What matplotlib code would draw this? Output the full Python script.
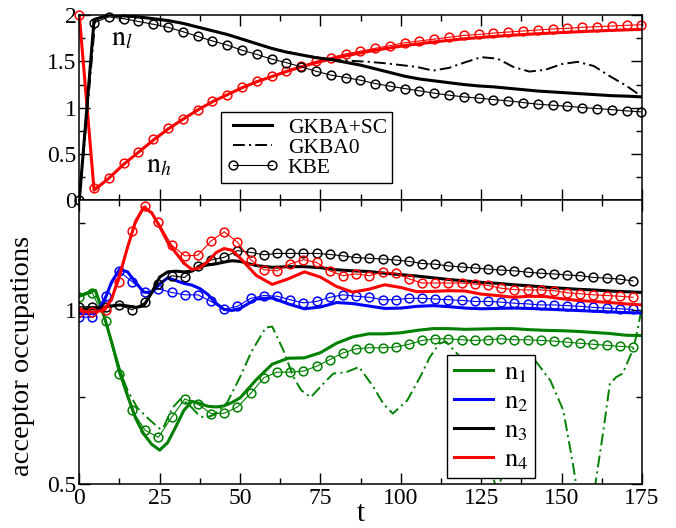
import numpy as np
import matplotlib as mpl
import matplotlib.pyplot as plt
from matplotlib.lines import Line2D

plt.rcParams.update({
    'font.family': ['Liberation Serif', 'DejaVu Serif'],
    'mathtext.fontset': 'stix',
    'axes.linewidth': 1.1,
    'xtick.direction': 'in', 'ytick.direction': 'in',
    'xtick.top': True, 'ytick.right': True,
    'xtick.major.size': 8, 'ytick.major.size': 8,
    'xtick.minor.size': 4, 'ytick.minor.size': 4,
    'xtick.major.width': 1.0, 'ytick.major.width': 1.0,
    'xtick.minor.width': 1.0, 'ytick.minor.width': 1.0,
    'xtick.labelsize': 17, 'ytick.labelsize': 17,
    'xtick.major.pad': 3, 'ytick.major.pad': 2,
    'lines.scale_dashes': False,
})

GREEN, BLUE, RED, BLACK = '#008000', '#0000ff', '#ff0000', '#000000'
DASHDOT = (0, (8.5, 3, 1.5, 3))

# ---- upper panel: n_l (black) and n_h (red) ----
t_top = np.linspace(0, 174.8, 39)  # KBE sampling, also used for the smooth GKBA+SC curves
nl_kbe = [0.0, 1.917, 1.98, 1.96, 1.93, 1.90, 1.867, 1.82, 1.77, 1.72, 1.676, 1.62,
          1.575, 1.524, 1.486, 1.441, 1.394, 1.352, 1.326, 1.297, 1.261, 1.232, 1.207,
          1.182, 1.157, 1.135, 1.117, 1.103, 1.088, 1.074, 1.056, 1.038, 1.027, 1.016,
          1.002, 0.991, 0.980, 0.966, 0.955]
nh_kbe = [2.0, 0.13, 0.24, 0.40, 0.52, 0.66, 0.78, 0.88, 0.98, 1.07, 1.14, 1.22, 1.29,
          1.34, 1.40, 1.45, 1.50, 1.54, 1.58, 1.61, 1.64, 1.67, 1.70, 1.72, 1.74, 1.76,
          1.78, 1.79, 1.805, 1.816, 1.827, 1.838, 1.849, 1.856, 1.867, 1.874, 1.881,
          1.889, 1.895]
nl_sc = [0.0, 1.95, 2.0, 1.99, 1.98, 1.96, 1.94, 1.91, 1.87, 1.83, 1.79, 1.74, 1.69,
         1.64, 1.60, 1.57, 1.54, 1.52, 1.49, 1.46, 1.42, 1.38, 1.34, 1.31, 1.29, 1.27,
         1.25, 1.235, 1.225, 1.21, 1.195, 1.18, 1.17, 1.16, 1.15, 1.14, 1.13, 1.125, 1.117]
nh_sc = [2.0, 0.11, 0.24, 0.39, 0.52, 0.65, 0.77, 0.875, 0.975, 1.065, 1.14, 1.215,
         1.28, 1.335, 1.39, 1.44, 1.485, 1.525, 1.56, 1.59, 1.62, 1.645, 1.67, 1.69,
         1.71, 1.727, 1.743, 1.756, 1.768, 1.779, 1.789, 1.798, 1.806, 1.814, 1.821,
         1.828, 1.834, 1.84, 1.845]
t_nl_gkba0 = [0, 5, 10, 15, 20, 25, 30, 35, 40, 45, 50, 55, 60, 65, 70, 75, 80, 85, 90,
              95, 100, 105, 110, 115, 120, 125, 130, 135, 140, 145, 150, 155, 160, 165,
              170, 175]
nl_gkba0 = [0.0, 1.96, 2.0, 1.99, 1.97, 1.95, 1.925, 1.89, 1.84, 1.80, 1.75, 1.69,
            1.64, 1.60, 1.565, 1.535, 1.515, 1.505, 1.495, 1.48, 1.46, 1.44, 1.40, 1.43,
            1.49, 1.545, 1.53, 1.44, 1.39, 1.41, 1.47, 1.495, 1.45, 1.34, 1.24, 1.12]

# ---- lower panel: acceptor occupations n_1..n_4 ----
t_kbe = np.linspace(0, 172.2, 43)
n1_kbe = [1.039, 1.049, 0.968, 0.818, 0.712, 0.655, 0.635, 0.692, 0.745, 0.730, 0.703,
          0.704, 0.722, 0.761, 0.806, 0.822, 0.822, 0.825, 0.839, 0.858, 0.877, 0.889,
          0.892, 0.892, 0.894, 0.902, 0.913, 0.918, 0.918, 0.915, 0.913, 0.915, 0.918,
          0.915, 0.915, 0.913, 0.911, 0.908, 0.905, 0.902, 0.899, 0.896, 0.894]
n2_kbe = [0.980, 0.980, 1.042, 1.113, 1.082, 1.051, 1.061, 1.051, 1.044, 1.044, 1.025,
          1.002, 1.011, 1.034, 1.042, 1.040, 1.030, 1.021, 1.025, 1.037, 1.044, 1.040,
          1.037, 1.030, 1.030, 1.034, 1.034, 1.032, 1.030, 1.028, 1.025, 1.025, 1.023,
          1.020, 1.018, 1.015, 1.015, 1.013, 1.011, 1.008, 1.006, 1.004, 1.002]
n3_kbe = [1.010, 1.010, 1.010, 1.016, 1.001, 1.023, 1.075, 1.099, 1.094, 1.128, 1.144,
          1.152, 1.171, 1.166, 1.159, 1.163, 1.163, 1.163, 1.163, 1.160, 1.156, 1.151,
          1.149, 1.147, 1.144, 1.140, 1.134, 1.132, 1.127, 1.124, 1.121, 1.118, 1.115,
          1.113, 1.109, 1.106, 1.104, 1.101, 1.099, 1.094, 1.092, 1.089, 1.084]
n4_kbe = [0.995, 0.995, 1.000, 1.082, 1.228, 1.300, 1.252, 1.187, 1.156, 1.158, 1.199,
          1.225, 1.195, 1.145, 1.116, 1.113, 1.133, 1.145, 1.137, 1.113, 1.099, 1.104,
          1.099, 1.109, 1.106, 1.090, 1.078, 1.078, 1.078, 1.078, 1.075, 1.071, 1.063,
          1.059, 1.058, 1.058, 1.056, 1.050, 1.047, 1.044, 1.042, 1.040, 1.037]

t_sc = [0, 2.5, 5, 7.5, 10, 12.5, 15, 17.5, 20, 22.5, 25, 27.5, 30, 32.5, 35, 37.5, 40,
        42.5, 45, 47.5, 50, 55, 60, 65, 70, 75, 80, 85, 90, 95, 100, 105, 110, 115, 120,
        125, 130, 135, 140, 145, 150, 155, 160, 165, 170, 175]
n1_sc = [1.04, 1.05, 1.057, 0.99, 0.91, 0.828, 0.755, 0.69, 0.645, 0.615, 0.598, 0.62,
         0.665, 0.712, 0.738, 0.732, 0.724, 0.722, 0.725, 0.735, 0.748, 0.80, 0.845,
         0.862, 0.863, 0.878, 0.905, 0.923, 0.932, 0.932, 0.935, 0.942, 0.947, 0.947,
         0.945, 0.946, 0.947, 0.947, 0.944, 0.942, 0.941, 0.939, 0.936, 0.933, 0.928, 0.927]
n2_sc = [0.99, 0.99, 0.992, 1.02, 1.08, 1.117, 1.11, 1.08, 1.052, 1.05, 1.075, 1.093,
         1.085, 1.077, 1.072, 1.062, 1.045, 1.02, 1.002, 0.999, 1.005, 1.032, 1.035,
         1.018, 1.004, 1.009, 1.022, 1.019, 1.012, 1.005, 1.006, 1.011, 1.013, 1.010,
         1.006, 1.004, 1.005, 1.006, 1.005, 1.003, 1.001, 0.999, 0.997, 0.995, 0.993, 0.992]
n3_sc = [1.003, 1.004, 1.005, 1.008, 1.012, 1.015, 1.012, 1.008, 1.012, 1.05, 1.095,
         1.11, 1.112, 1.11, 1.112, 1.125, 1.13, 1.133, 1.138, 1.142, 1.14, 1.128, 1.123,
         1.125, 1.125, 1.122, 1.116, 1.113, 1.111, 1.106, 1.102, 1.098, 1.093, 1.088,
         1.084, 1.080, 1.077, 1.073, 1.070, 1.066, 1.063, 1.060, 1.058, 1.055, 1.053, 1.051]
n4_sc = [1.0, 0.995, 0.995, 1.0, 1.03, 1.10, 1.18, 1.255, 1.295, 1.28, 1.24, 1.195,
         1.165, 1.135, 1.117, 1.122, 1.14, 1.165, 1.177, 1.172, 1.15, 1.10, 1.074, 1.09,
         1.11, 1.095, 1.068, 1.052, 1.06, 1.073, 1.065, 1.053, 1.054, 1.056, 1.055, 1.046,
         1.042, 1.037, 1.040, 1.039, 1.033, 1.028, 1.025, 1.022, 1.018, 1.015]

t_n1_gkba0 = [0, 2.5, 5, 7.5, 10, 12.5, 15, 18, 22, 25, 26, 29, 31.5, 34, 37, 39, 42,
              46, 50, 53.5, 58, 60, 63.5, 66.5, 69, 72, 76, 79, 83, 87, 91.5, 94.5, 97.5,
              102, 106, 109, 112, 114, 118, 122, 126, 130, 134, 138, 141, 146.5, 150.5,
              153.5, 155, 157.5, 160, 163, 165, 167, 169, 172.5, 175]
n1_gkba0 = [1.04, 1.05, 1.057, 0.99, 0.91, 0.83, 0.77, 0.72, 0.684, 0.66, 0.66, 0.72,
            0.745, 0.73, 0.70, 0.69, 0.70, 0.735, 0.808, 0.88, 0.95, 0.953, 0.884, 0.81,
            0.77, 0.75, 0.79, 0.818, 0.822, 0.837, 0.779, 0.732, 0.703, 0.741, 0.808,
            0.865, 0.904, 0.91, 0.87, 0.75, 0.60, 0.48, 0.60, 0.80, 0.865, 0.798, 0.713,
            0.56, 0.47, 0.40, 0.47, 0.655, 0.789, 0.808, 0.818, 0.894, 1.008]

fig = plt.figure(figsize=(6.76, 5.28), dpi=100)
ax1 = fig.add_axes([0.1173, 0.6203, 0.8324, 0.3513])
ax2 = fig.add_axes([0.1173, 0.0828, 0.8324, 0.5375])

kbe_kw = dict(marker='o', ms=6.3, mfc='none', mew=1.1, lw=0.8)

# upper panel
ax1.plot(t_top, nh_sc, color=RED, lw=2.2)
ax1.plot(t_top, nh_kbe, color=RED, clip_on=False, **kbe_kw)
ax1.plot(t_nl_gkba0, nl_gkba0, color=BLACK, lw=1.4, ls=DASHDOT, label='GKBA0')
ax1.plot(t_top, nl_sc, color=BLACK, lw=2.2, label='GKBA+SC')
ax1.plot(t_top, nl_kbe, color=BLACK, clip_on=False, label='KBE', **kbe_kw)

ax1.text(9.9, 1.677, r'$\mathrm{n}_l$', fontsize=20)
ax1.text(20.7, 0.307, r'$\mathrm{n}_h$', fontsize=20)

h, l = ax1.get_legend_handles_labels()
order = [1, 0, 2]
leg1 = ax1.legend([h[i] for i in order], [l[i] for i in order],
                  loc='lower left', bbox_to_anchor=(0.252, 0.093), borderaxespad=0,
                  fontsize=15.5, numpoints=2, handlelength=2.4, handletextpad=0.45,
                  labelspacing=0.0, borderpad=0.25, fancybox=False, framealpha=1,
                  edgecolor='black')
leg1.get_frame().set_linewidth(1.0)

ax1.set_xlim(0, 175)
ax1.set_ylim(0, 2)
ax1.set_yticks([0, 0.5, 1, 1.5, 2])
ax1.set_yticklabels(['0', '0.5', '1', '1.5', '2'])
ax1.set_yticks(np.arange(0, 2.01, 0.25), minor=True)
ax1.set_xticks(np.arange(0, 176, 25))
ax1.set_xticks(np.arange(0, 176, 12.5), minor=True)
ax1.tick_params(axis='x', which='both', labelbottom=False)
ax1.tick_params(which='minor', top=True, right=True)

# lower panel
series = [(n1_sc, n1_kbe, GREEN, r'$\mathrm{n}_1$'),
          (n2_sc, n2_kbe, BLUE, r'$\mathrm{n}_2$'),
          (n3_sc, n3_kbe, BLACK, r'$\mathrm{n}_3$'),
          (n4_sc, n4_kbe, RED, r'$\mathrm{n}_4$')]
ax2.plot(t_n1_gkba0, n1_gkba0, color=GREEN, lw=1.4, ls=DASHDOT)
for sc, kbe, c, lab in series:
    ax2.plot(t_sc, sc, color=c, lw=2.2)
    ax2.plot(t_kbe, kbe, color=c, **kbe_kw)

handles = [Line2D([0], [0], color=c, lw=2.2) for _, _, c, _ in series]
leg2 = ax2.legend(handles, [s[3] for s in series], loc='lower left',
                  bbox_to_anchor=(0.654, 0.021), borderaxespad=0, fontsize=19,
                  handlelength=1.5, handletextpad=0.4, labelspacing=0.18,
                  borderpad=0.25, fancybox=False, framealpha=1, edgecolor='black')
leg2.get_frame().set_linewidth(1.0)

ax2.set_xlim(0, 175)
ax2.set_ylim(0.5, 1.315)
ax2.set_yticks([0.5, 1])
ax2.set_yticklabels(['0.5', '1'])
ax2.set_yticks([0.75, 1.25], minor=True)
ax2.set_xticks(np.arange(0, 176, 25))
ax2.set_xticks(np.arange(0, 176, 12.5), minor=True)
ax2.tick_params(which='minor', top=True, right=True)
ax2.set_xlabel('t', fontsize=21, labelpad=-6)
ax2.set_ylabel('acceptor occupations', fontsize=20.5)
ax2.yaxis.set_label_coords(-0.079, 0.453)

fig.savefig('out.png', dpi=100)
